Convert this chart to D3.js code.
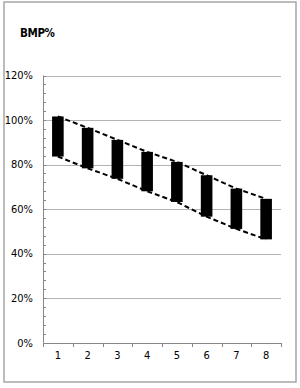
<!DOCTYPE html>
<html>
<head>
<meta charset="utf-8">
<script src="https://cdn.jsdelivr.net/npm/d3@7"></script>
<style>
  html, body { margin: 0; padding: 0; background: #fff; }
  svg { display: block; }
  text { font-family: "Liberation Sans Narrow", "DejaVu Sans Condensed", "Liberation Sans", sans-serif; fill: #000; }
</style>
</head>
<body>
<svg id="chart" width="300" height="388"></svg>
<script>
// chart data
const categories = ["1", "2", "3", "4", "5", "6", "7", "8"];
const highValues = [101.6, 96.5, 91.1, 85.7, 81.2, 75.2, 69.2, 64.6];
const lowValues  = [83.6, 78.3, 73.6, 68.0, 63.2, 56.6, 51.1, 46.4];
const yTicks = [0, 20, 40, 60, 80, 100, 120];

const svg = d3.select('#chart');

// outer frame
svg.append('rect')
  .attr('x', 4).attr('y', 2)
  .attr('width', 292).attr('height', 380)
  .attr('fill', '#fff')
  .attr('stroke', '#a6a6a6')
  .attr('stroke-width', 1.5);

// title
svg.append('text')
  .attr('x', 20).attr('y', 37)
  .style('font-size', '11.5px')
  .style('font-weight', 'bold')
  .style('letter-spacing', '-0.4px')
  .text('BMP%');

const plot = { left: 43, right: 281, top: 75.5, bottom: 342.7 };

const x = d3.scaleBand()
  .domain(categories)
  .range([plot.left, plot.right])
  .paddingInner(0.61)
  .paddingOuter(0.305);

const xCenter = d3.scalePoint()
  .domain(categories)
  .range([plot.left, plot.right])
  .padding(0.5);

const y = d3.scaleLinear()
  .domain([0, 120])
  .range([plot.bottom, plot.top]);

// gridlines
svg.append('g')
  .selectAll('line')
  .data(yTicks.filter(d => d > 0))
  .join('line')
  .attr('x1', plot.left).attr('x2', plot.right)
  .attr('y1', d => Math.round(y(d)) + 0.5)
  .attr('y2', d => Math.round(y(d)) + 0.5)
  .attr('stroke', '#b3b3b3')
  .attr('stroke-width', 1);

// y axis line + minor ticks
svg.append('line')
  .attr('x1', plot.left + 0.5).attr('x2', plot.left + 0.5)
  .attr('y1', plot.top).attr('y2', plot.bottom)
  .attr('stroke', '#868686');

svg.append('g')
  .selectAll('line')
  .data(d3.range(0, 121, 4))
  .join('line')
  .attr('x1', plot.left).attr('x2', plot.left + 3)
  .attr('y1', d => Math.round(y(d)) + 0.5)
  .attr('y2', d => Math.round(y(d)) + 0.5)
  .attr('stroke', '#868686');

// y labels
svg.append('g')
  .selectAll('text')
  .data(yTicks)
  .join('text')
  .attr('x', 33)
  .attr('y', d => y(d))
  .attr('dy', '0.35em')
  .attr('text-anchor', 'end')
  .style('font-size', '11px')
  .text(d => d + '%');

// x axis line + ticks between categories
svg.append('line')
  .attr('x1', plot.left).attr('x2', plot.right)
  .attr('y1', Math.round(plot.bottom) + 0.5).attr('y2', Math.round(plot.bottom) + 0.5)
  .attr('stroke', '#868686');

const step = (plot.right - plot.left) / categories.length;
svg.append('g')
  .selectAll('line')
  .data(d3.range(0, categories.length + 1))
  .join('line')
  .attr('x1', i => Math.round(plot.left + i * step) + 0.5)
  .attr('x2', i => Math.round(plot.left + i * step) + 0.5)
  .attr('y1', Math.round(plot.bottom))
  .attr('y2', Math.round(plot.bottom) + 4)
  .attr('stroke', '#868686');

// x labels
svg.append('g')
  .selectAll('text')
  .data(categories)
  .join('text')
  .attr('x', d => xCenter(d))
  .attr('y', 359)
  .attr('text-anchor', 'middle')
  .style('font-size', '11px')
  .text(d => d);

// dashed lines through highs and lows
const line = d3.line()
  .x((d, i) => xCenter(categories[i]))
  .y(d => y(d));

[highValues, lowValues].forEach(vals => {
  svg.append('path')
    .attr('d', line(vals))
    .attr('fill', 'none')
    .attr('stroke', '#000')
    .attr('stroke-width', 2)
    .attr('stroke-dasharray', '5,3');
});

// floating bars
svg.append('g')
  .selectAll('rect')
  .data(categories)
  .join('rect')
  .attr('x', d => x(d))
  .attr('width', x.bandwidth())
  .attr('y', (d, i) => y(highValues[i]))
  .attr('height', (d, i) => y(lowValues[i]) - y(highValues[i]))
  .attr('fill', '#000');
</script>
</body>
</html>
